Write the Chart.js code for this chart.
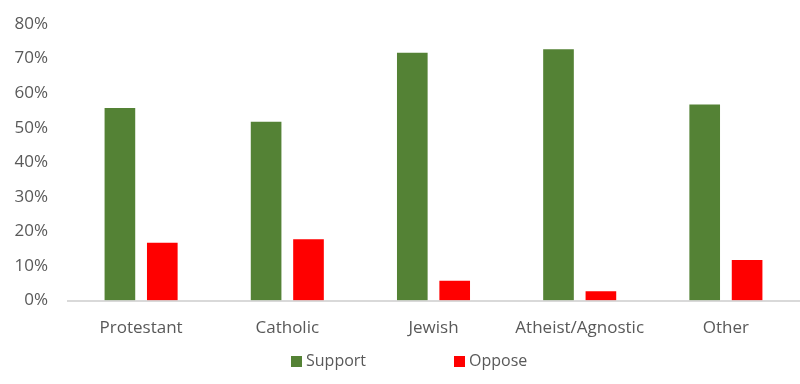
<!DOCTYPE html>
<html>
<head>
<meta charset="utf-8">
<script src="https://cdn.jsdelivr.net/npm/chart.js@4/dist/chart.umd.min.js"></script>
<style>
  html, body { margin: 0; padding: 0; background: #ffffff; }
  #wrap { width: 800px; height: 384px; position: relative; }
</style>
</head>
<body>
<div id="wrap"><canvas id="c"></canvas></div>
<script>
const categories = ['Protestant', 'Catholic', 'Jewish', 'Atheist/Agnostic', 'Other'];
const supportValues = [56, 52, 72, 73, 57];
const opposeValues = [17, 18, 6, 3, 12];
const seriesNames = ['Support', 'Oppose'];
const yTicks = [0, 10, 20, 30, 40, 50, 60, 70, 80];

const FONT = '"Open Sans", "DejaVu Sans", sans-serif';
const TEXT = '#595959';

const legendPlugin = {
  id: 'customLegend',
  afterDraw(chart) {
    const ctx = chart.ctx;
    const items = chart.data.datasets.map(d => ({ text: d.label, color: d.backgroundColor }));
    const y = 361;
    const xs = [291, 454];
    ctx.save();
    ctx.font = '16px ' + FONT;
    ctx.textBaseline = 'middle';
    ctx.textAlign = 'left';
    items.forEach((it, i) => {
      ctx.fillStyle = it.color;
      ctx.fillRect(xs[i], y - 5, 11, 11);
      ctx.fillStyle = TEXT;
      ctx.fillText(it.text, xs[i] + 15, y);
    });
    ctx.restore();
  }
};

new Chart(document.getElementById('c'), {
  type: 'bar',
  data: {
    labels: categories,
    datasets: [
      { label: seriesNames[0], data: supportValues, backgroundColor: '#548235',
        borderColor: 'rgba(255,255,255,0.35)', borderWidth: 1,
        categoryPercentage: 0.58, barPercentage: 0.77 },
      { label: seriesNames[1], data: opposeValues, backgroundColor: '#FF0000',
        borderColor: 'rgba(255,255,255,0.35)', borderWidth: 1,
        categoryPercentage: 0.58, barPercentage: 0.77 }
    ]
  },
  options: {
    responsive: true,
    maintainAspectRatio: false,
    animation: false,
    layout: { padding: { left: 0, right: 1, top: 24, bottom: 29 } },
    plugins: {
      legend: { display: false },
      tooltip: { enabled: false }
    },
    scales: {
      x: {
        grid: { display: false, drawTicks: false },
        border: { display: true, color: '#d9d9d9', width: 2 },
        ticks: { color: TEXT, font: { family: FONT, size: 17 }, padding: 17, maxRotation: 0, autoSkip: false }
      },
      y: {
        min: 0, max: 80,
        afterBuildTicks(axis) { axis.ticks = yTicks.map(v => ({ value: v })); },
        afterFit(axis) { axis.width = 68; axis.paddingTop = 0; axis.paddingBottom = 0; },
        grid: { display: false, drawTicks: false },
        border: { display: false },
        ticks: { color: TEXT, font: { family: FONT, size: 17 }, padding: 20,
                 callback: v => v + '%' }
      }
    }
  },
  plugins: [legendPlugin]
});
</script>
</body>
</html>
